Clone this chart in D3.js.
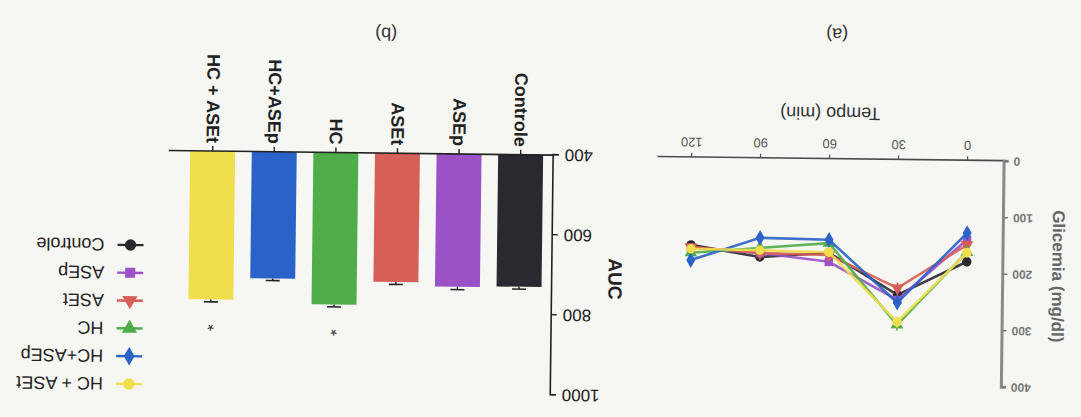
<!DOCTYPE html>
<html>
<head>
<meta charset="utf-8">
<script src="https://cdn.jsdelivr.net/npm/d3@7"></script>
<style>
  body { margin: 0; background: #f6f6f3; }
  svg { display: block; }
  text { font-family: "Liberation Sans", Arial, sans-serif; }
</style>
</head>
<body>
<svg id="chart" width="1081" height="417"></svg>
<script>
// Groups and their colours
const groups = ["Controle", "ASEp", "ASEt", "HC", "HC+ASEp", "HC + ASEt"];
const groupColors = ["#2b2830", "#9a52c6", "#d65f58", "#4fad4a", "#2b62c8", "#f1de4c"];

// (a) Glycemia (mg/dl) over time
const timePoints = [0, 30, 60, 90, 120];
const glyControle = [178, 238, 165, 174, 154];
const glyASEp     = [139, 247, 181, 167, 159];
const glyASEt     = [148, 226, 169, 167, 158];
const glyHC       = [161, 291, 148, 158, 168];
const glyHCASEp   = [127, 252, 142, 140, 181];
const glyHCASEt   = [162, 286, 164, 162, 161];
const glySem      = [8, 10, 8, 7, 7];
const glyTicks = [0, 100, 200, 300, 400];
const timeTicks = [0, 30, 60, 90, 120];

// (b) Area under the curve
const aucMean = [730, 732, 722, 780, 717, 771];
const aucSem  = [6, 7, 6, 6, 5, 6];
const aucMarks = ["", "", "", "*", "", "*"];
const aucTicks = [400, 600, 800, 1000];

const glySeries = [glyControle, glyASEp, glyASEt, glyHC, glyHCASEp, glyHCASEt];
const symbolTypes = [d3.symbolCircle, d3.symbolSquare, d3.symbolTriangle,
                     d3.symbolTriangle, d3.symbolDiamond, d3.symbolCircle];
const symbolRotate = [0, 0, 0, 180, 0, 0];

const svg = d3.select("#chart");
// The printed page is turned upside down
const page = svg.append("g").attr("transform", "rotate(180.7 540.5 208.5)");

/* ---------- panel (a): glycemia curve ---------- */
const pa = page.append("g");
const xT = d3.scaleLinear().domain([0, 120]).range([113.6, 389.6]);
const yG = d3.scaleLinear().domain([0, 400]).range([261, 35]);

pa.append("line").attr("x1", 77).attr("x2", 424).attr("y1", 262).attr("y2", 262)
  .attr("stroke", "#4a4a4a").attr("stroke-width", 1.6);

const xAxA = pa.append("g").attr("transform", "translate(0,262)")
  .call(d3.axisBottom(xT).tickValues(timeTicks).tickSize(4).tickPadding(6));
xAxA.select(".domain").remove();
xAxA.selectAll(".tick line").attr("stroke", "#555").attr("stroke-width", 1.2);
xAxA.selectAll(".tick text").attr("font-size", 13).attr("fill", "#555");

const yAxA = pa.append("g").attr("transform", "translate(77,0)")
  .call(d3.axisLeft(yG).tickValues(glyTicks).tickSize(4).tickPadding(5));
yAxA.select(".domain").attr("stroke", "#8a8a8a").attr("stroke-width", 3);
yAxA.selectAll(".tick line").attr("stroke", "#777").attr("stroke-width", 1.5);
yAxA.selectAll(".tick text").attr("font-size", 12).attr("font-weight", "bold").attr("fill", "#777");

pa.append("text").attr("transform", "translate(22,147) rotate(-90)")
  .attr("text-anchor", "middle").attr("dy", "0.35em")
  .attr("font-size", 17).attr("font-weight", "bold").attr("fill", "#666")
  .text("Glicemia (mg/dl)");
pa.append("text").attr("x", 252).attr("y", 307).attr("dy", "0.35em")
  .attr("text-anchor", "middle").attr("font-size", 18).attr("fill", "#333")
  .text("Tempo (min)");
pa.append("text").attr("x", 246).attr("y", 386).attr("dy", "0.35em")
  .attr("text-anchor", "middle").attr("font-size", 18).attr("fill", "#333")
  .text("(a)");

const line = d3.line().x((d, i) => xT(timePoints[i])).y(d => yG(d));
glySeries.forEach((vals, g) => {
  const sg = pa.append("g");
  sg.append("path").datum(vals).attr("d", line).attr("fill", "none")
    .attr("stroke", groupColors[g]).attr("stroke-width", 2.6).attr("opacity", 0.9);
  sg.selectAll("line.err").data(vals).join("line").attr("class", "err")
    .attr("x1", (d, i) => xT(timePoints[i])).attr("x2", (d, i) => xT(timePoints[i]))
    .attr("y1", (d, i) => yG(d - glySem[i])).attr("y2", (d, i) => yG(d + glySem[i]))
    .attr("stroke", groupColors[g]).attr("stroke-width", 1.5);
  sg.selectAll("path.pt").data(vals).join("path").attr("class", "pt")
    .attr("transform", (d, i) => `translate(${xT(timePoints[i])},${yG(d)}) rotate(${symbolRotate[g]})`)
    .attr("d", d3.symbol().type(symbolTypes[g]).size(70))
    .attr("fill", groupColors[g]);
});

/* ---------- panel (b): AUC bars ---------- */
const pb = page.append("g");
const xB = d3.scaleBand().domain(groups).range([530.2, 899.8])
  .paddingInner(0.27).paddingOuter(0.135);
const yA = d3.scaleLinear().domain([400, 1000]).range([262, 22]);

pb.selectAll("rect.bar").data(groups).join("rect").attr("class", "bar")
  .attr("x", d => xB(d)).attr("width", xB.bandwidth())
  .attr("y", (d, i) => yA(aucMean[i]))
  .attr("height", (d, i) => yA(400) - yA(aucMean[i]))
  .attr("fill", (d, i) => groupColors[i]);

// error bars
const cx = d => xB(d) + xB.bandwidth() / 2;
pb.selectAll("line.errv").data(groups).join("line").attr("class", "errv")
  .attr("x1", cx).attr("x2", cx)
  .attr("y1", (d, i) => yA(aucMean[i])).attr("y2", (d, i) => yA(aucMean[i] + aucSem[i]))
  .attr("stroke", "#222").attr("stroke-width", 1.4);
pb.selectAll("line.errc").data(groups).join("line").attr("class", "errc")
  .attr("x1", d => cx(d) - 7).attr("x2", d => cx(d) + 7)
  .attr("y1", (d, i) => yA(aucMean[i] + aucSem[i])).attr("y2", (d, i) => yA(aucMean[i] + aucSem[i]))
  .attr("stroke", "#222").attr("stroke-width", 1.6);
pb.selectAll("text.sig").data(groups).join("text").attr("class", "sig")
  .attr("x", cx).attr("y", (d, i) => yA(aucMean[i] + aucSem[i]) - 29)
  .attr("dy", "0.7em").attr("text-anchor", "middle").attr("font-size", 17).attr("fill", "#333")
  .text((d, i) => aucMarks[i]);

// axes
pb.append("line").attr("x1", 528).attr("x2", 913).attr("y1", 262).attr("y2", 262)
  .attr("stroke", "#222").attr("stroke-width", 1.6);
const xAxB = pb.append("g").attr("transform", "translate(0,262)")
  .call(d3.axisBottom(xB).tickSize(5).tickPadding(4));
xAxB.select(".domain").remove();
xAxB.selectAll(".tick line").attr("stroke", "#222").attr("stroke-width", 1.4);
xAxB.selectAll(".tick text")
  .attr("transform", "rotate(-90)").attr("text-anchor", "end")
  .attr("x", -8).attr("y", 0).attr("dy", "0.35em")
  .attr("font-size", 18).attr("font-weight", "bold").attr("fill", "#222");

const yAxB = pb.append("g").attr("transform", "translate(528,0)")
  .call(d3.axisLeft(yA).tickValues(aucTicks).tickFormat(d3.format("d")).tickSize(5).tickPadding(6));
yAxB.select(".domain").attr("stroke", "#222").attr("stroke-width", 1.6);
yAxB.selectAll(".tick line").attr("stroke", "#222").attr("stroke-width", 1.4);
yAxB.selectAll(".tick text").attr("font-size", 17).attr("fill", "#222");

pb.append("text").attr("transform", "translate(465,139) rotate(-90)")
  .attr("text-anchor", "middle").attr("dy", "0.35em")
  .attr("font-size", 19).attr("font-weight", "bold").attr("fill", "#222")
  .text("AUC");
pb.append("text").attr("x", 697).attr("y", 381).attr("dy", "0.35em")
  .attr("text-anchor", "middle").attr("font-size", 18).attr("fill", "#333")
  .text("(b)");

// legend
const lg = pb.append("g");
const rowY = i => 167 - i * 27.8;
groups.forEach((g, i) => {
  const r = lg.append("g").attr("transform", `translate(0,${rowY(i)})`);
  r.append("line").attr("x1", 937).attr("x2", 963).attr("stroke", groupColors[i]).attr("stroke-width", 2.4);
  r.append("path").attr("transform", `translate(950,0) rotate(${symbolRotate[i]})`)
    .attr("d", d3.symbol().type(symbolTypes[i]).size(100)).attr("fill", groupColors[i]);
  r.append("text").attr("x", 976).attr("dy", "0.35em").attr("font-size", 18).attr("fill", "#222").text(g);
});
</script>
</body>
</html>
